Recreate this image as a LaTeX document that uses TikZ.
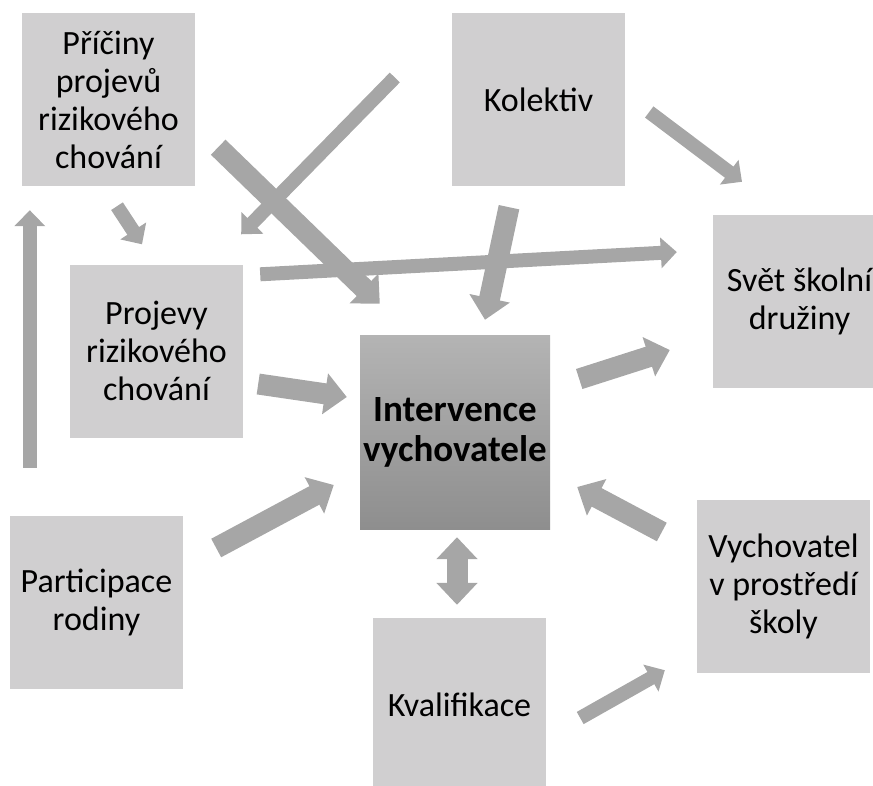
\documentclass[tikz,border=0pt]{standalone}
\usepackage{fontspec}
\setmainfont{Carlito}
\usetikzlibrary{arrows.meta}
\definecolor{boxgray}{RGB}{208,207,208}
\definecolor{arrgray}{RGB}{166,166,166}
\definecolor{intertop}{RGB}{180,180,180}
\definecolor{interbot}{RGB}{142,142,142}
\begin{document}
\begin{tikzpicture}[x=1pt, y=-1pt,
    box/.style={fill=boxgray, minimum width=173pt, minimum height=173pt, inner sep=0pt, align=center, font=\fontsize{34}{38}\selectfont},
    arr/.style={draw=arrgray, line width=14pt, -{Triangle[width=30pt,length=16pt]}},
    warr/.style={draw=arrgray, line width=21pt, -{Triangle[width=40pt,length=22pt]}}]
    \clip (0,0) rectangle (873,785);
    % boxes
    \node[box] (pric) at (108.5,99.5) {Příčiny\\projevů\\rizikového\\chování};
    \node[box] (proj) at (156.5,351) {Projevy\\rizikového\\chování};
    \node[box] (kol) at (538.5,99.5) {Kolektiv};
    \node[box] (svet) at (799.5,301.5) {Svět školní\\družiny};
    \node[box] (vych) at (783.5,586.5) {Vychovatel\\v prostředí\\školy};
    \node[box] (kval) at (459.5,704.5) {Kvalifikace};
    \node[box] (part) at (96.5,602.5) {Participace\\rodiny};
    \node[box, minimum width=190pt, minimum height=194pt, top color=intertop, bottom color=interbot,
        font=\fontsize{37}{40}\selectfont\bfseries] (interv) at (455,432) {Intervence\\vychovatele};
    % arrows
    \draw[arr] ([shift={(8.5,20)}]pric.south) -- ([shift={(-14.5,-20)}]proj.north);
    \draw[warr] ([shift={(23,-39)}]pric.south east) -- ([shift={(20,-31)}]interv.north west);
    \draw[arr] ([shift={(-57,-22)}]kol.west) -- ([shift={(-2,-30)}]proj.north east);
    \draw[warr] ([shift={(-29.5,21)}]kol.south) -- ([shift={(30,-15)}]interv.north);
    \draw[arr] ([shift={(17,10)}]proj.north east) -- ([shift={(-36,-49.5)}]svet.west);
    \draw[arr] ([shift={(24,12.5)}]kol.east) -- ([shift={(-57.5,-33)}]svet.north);
    \draw[warr] ([shift={(15,33)}]proj.east) -- ([shift={(-13,-35)}]interv.west);
    \draw[warr] ([shift={(29,-53)}]interv.east) -- ([shift={(-43,48.5)}]svet.west);
    \draw[warr] ([shift={(-35,-54.5)}]vych.west) -- ([shift={(27,55)}]interv.east);
    \draw[warr, {Triangle[width=40pt,length=22pt]}-{Triangle[width=40pt,length=22pt]}] ([shift={(2,8)}]interv.south) -- ([shift={(-2.5,-13)}]kval.north);
    \draw[arr] ([shift={(34,13.5)}]kval.east) -- ([shift={(-32,-3)}]vych.south west);
    \draw[warr] ([shift={(33,-54.5)}]part.east) -- ([shift={(-26,53)}]interv.west);
    \draw[arr] ([shift={(20,-48)}]part.north west) -- ([shift={(8,24)}]pric.south west);
\end{tikzpicture}
\end{document}
